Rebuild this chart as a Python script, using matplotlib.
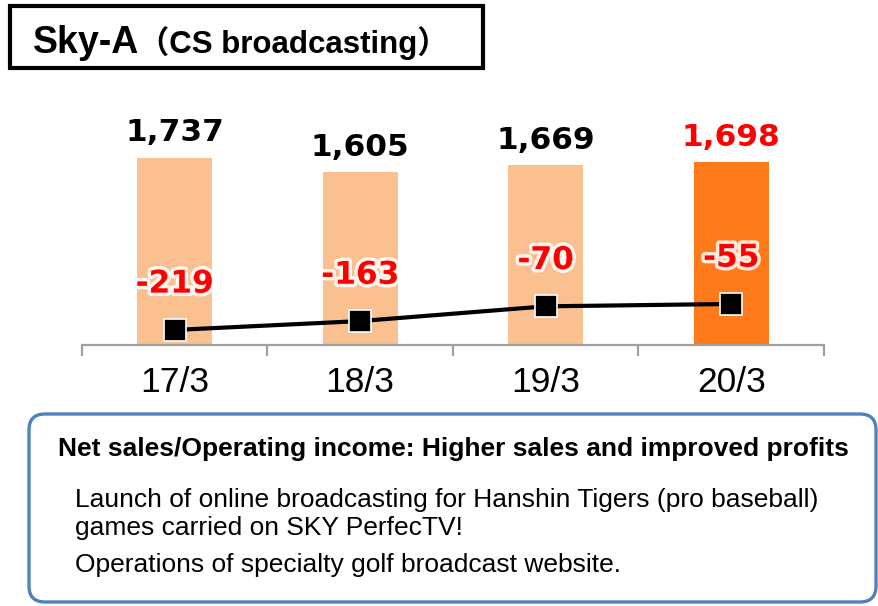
import matplotlib
matplotlib.use("Agg")
import matplotlib.pyplot as plt
import matplotlib.patheffects as pe
from matplotlib.patches import Rectangle, FancyBboxPatch

# ---- data ----
categories = ["17/3", "18/3", "19/3", "20/3"]
net_sales = [1737, 1605, 1669, 1698]
op_income = [-219, -163, -70, -55]
sales_labels = ["1,737", "1,605", "1,669", "1,698"]
income_labels = ["-219", "-163", "-70", "-55"]
title_main = "Sky-A"
title_sub = "（CS broadcasting）"
box_heading = "Net sales/Operating income: Higher sales and improved profits"
box_lines = ["Launch of online broadcasting for Hanshin Tigers (pro baseball)",
             "games carried on SKY PerfecTV!",
             "Operations of specialty golf broadcast website."]

W, H = 879, 606
fig = plt.figure(figsize=(W / 100, H / 100), dpi=100)

LIGHT = "#FAC090"
DARK = "#FF7A1A"
RED = "#FF0000"

ax = fig.add_axes([82 / W, 1 - 345 / H, (824 - 82) / W, (345 - 95) / H])
x = list(range(len(categories)))
colors = [LIGHT] * (len(categories) - 1) + [DARK]
ax.bar(x, net_sales, width=0.405, color=colors, zorder=1)
ax.set_xlim(-0.5, len(categories) - 0.5)
ax.set_ylim(0, 2322)
for s in ["top", "right", "left"]:
    ax.spines[s].set_visible(False)
ax.spines["bottom"].set_color("#A0A0A0")
ax.spines["bottom"].set_linewidth(1.6)
ax.set_yticks([])
ax.set_xticks(x)
ax.set_xticklabels(categories, fontsize=25.5, family="Liberation Sans")
ax.tick_params(axis="x", which="major", length=0, pad=15)
ax.set_xticks([i - 0.5 for i in range(len(categories) + 1)], minor=True)
ax.tick_params(axis="x", which="minor", length=8, width=1.6, color="#A0A0A0")

for i, (v, lab) in enumerate(zip(net_sales, sales_labels)):
    ax.annotate(lab, (i, v), xytext=(0, 18), textcoords="offset points",
                ha="center", va="center", fontsize=22.5, fontweight="bold",
                family="DejaVu Sans", color=RED if i == len(categories) - 1 else "black")

ax2 = ax.twinx()
ax2.set_ylim(-314, 1264)
ax2.axis("off")
ax2.plot(x, op_income, color="black", lw=3, marker="s", markersize=16,
         markerfacecolor="black", markeredgecolor="white", markeredgewidth=1.2, zorder=3)
for i, (v, lab) in enumerate(zip(op_income, income_labels)):
    ax2.annotate(lab, (i, v), xytext=(0, 33), textcoords="offset points",
                 ha="center", va="center", fontsize=22.5, fontweight="bold",
                 family="DejaVu Sans", color=RED,
                 path_effects=[pe.withStroke(linewidth=5, foreground="white", alpha=0.85)])

# ---- overlay in pixel coordinates ----
ov = fig.add_axes([0, 0, 1, 1])
ov.set_xlim(0, W)
ov.set_ylim(H, 0)
ov.axis("off")
ov.patch.set_visible(False)

ov.add_patch(Rectangle((10, 6), 473, 62, fill=False, edgecolor="black", lw=3))
ov.text(33, 53, title_main, fontsize=27, fontweight="bold", family="Liberation Sans",
        va="baseline", ha="left")
ov.text(138, 53, title_sub, fontsize=22.5, fontweight="bold",
        family=["Liberation Sans", "Noto Sans CJK JP"], va="baseline", ha="left")

ov.add_patch(FancyBboxPatch((29, 414), 847, 188, boxstyle="round,pad=0,rounding_size=16",
                            fill=False, edgecolor="#4F81BD", lw=2.4))
ov.text(58, 449, box_heading, fontsize=19, fontweight="bold", family="Liberation Sans",
        va="center", ha="left")
ov.text(75, 500, box_lines[0], fontsize=19, family="Liberation Sans", va="center", ha="left")
ov.text(75, 528, box_lines[1], fontsize=19, family="Liberation Sans", va="center", ha="left")
ov.text(75, 565, box_lines[2], fontsize=19, family="Liberation Sans", va="center", ha="left")

fig.savefig("out.png", dpi=100)
